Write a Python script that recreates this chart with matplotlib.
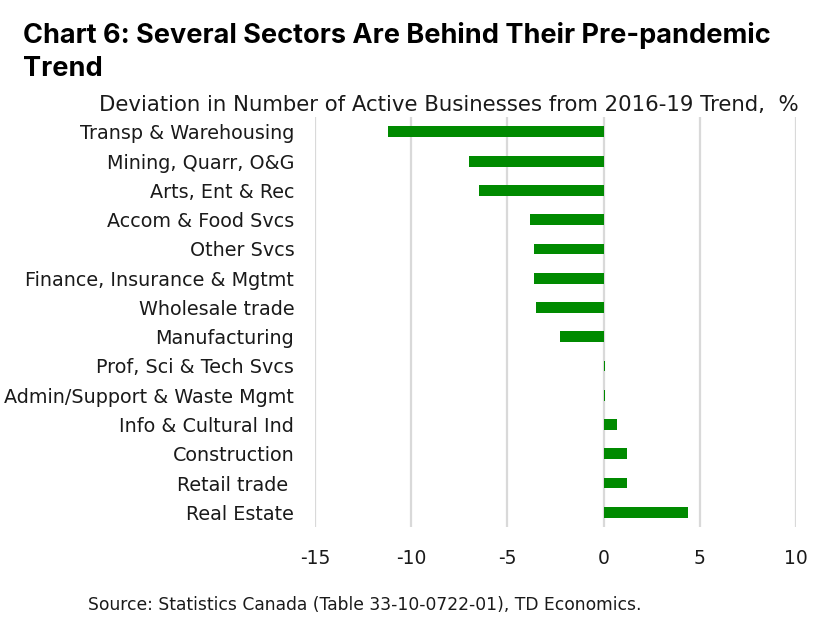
import matplotlib.pyplot as plt

# sectors, top to bottom
sectores = ['Transp & Warehousing', 'Mining, Quarr, O&G', 'Arts, Ent & Rec',
            'Accom & Food Svcs', 'Other Svcs', 'Finance, Insurance & Mgtmt',
            'Wholesale trade', 'Manufacturing', 'Prof, Sci & Tech Svcs',
            'Admin/Support & Waste Mgmt', 'Info & Cultural Ind', 'Construction',
            'Retail trade ', 'Real Estate']
desviacion = [-11.2, -7.0, -6.47, -3.82, -3.61, -3.61, -3.51, -2.26,
              0.06, 0.06, 0.7, 1.22, 1.22, 4.39]
xticks = [-15, -10, -5, 0, 5, 10]

plt.rcParams['font.family'] = ['DejaVu Sans']

fig = plt.figure(figsize=(8.27, 6.17), dpi=100)
ax = fig.add_axes([0.381, 0.146, 0.5815, 0.664])

pos = list(range(len(sectores)))
ax.barh(pos, desviacion, height=0.37, color='#008a00', zorder=3)
ax.set_ylim(len(sectores) - 0.5, -0.5)
ax.set_yticks(pos)
ax.set_yticklabels(sectores, fontsize=13.8, color='#1a1a1a')
ax.set_xlim(-15, 10)
ax.set_xticks(xticks)
ax.set_xticklabels([str(t) for t in xticks], fontsize=13.5, color='#1a1a1a')
ax.grid(axis='x', color='#d9d9d9', linewidth=1.6, zorder=0)
for s in ax.spines.values():
    s.set_visible(False)
ax.tick_params(length=0)
ax.tick_params(axis='y', pad=15)
ax.tick_params(axis='x', pad=16)

fig.text(0.028, 0.965, 'Chart 6: Several Sectors Are Behind Their Pre-pandemic\nTrend',
         fontsize=19.5, fontweight='bold', va='top', ha='left', linespacing=1.35,
         family=['Inter', 'DejaVu Sans'])
fig.text(0.966, 0.813, 'Deviation in Number of Active Businesses from 2016-19 Trend,  %',
         fontsize=15.3, ha='right', va='bottom', color='#1a1a1a')
fig.text(0.106, 0.005, 'Source: Statistics Canada (Table 33-10-0722-01), TD Economics.',
         fontsize=12.3, ha='left', va='bottom', color='#1a1a1a')

fig.savefig('out.png', dpi=100)
